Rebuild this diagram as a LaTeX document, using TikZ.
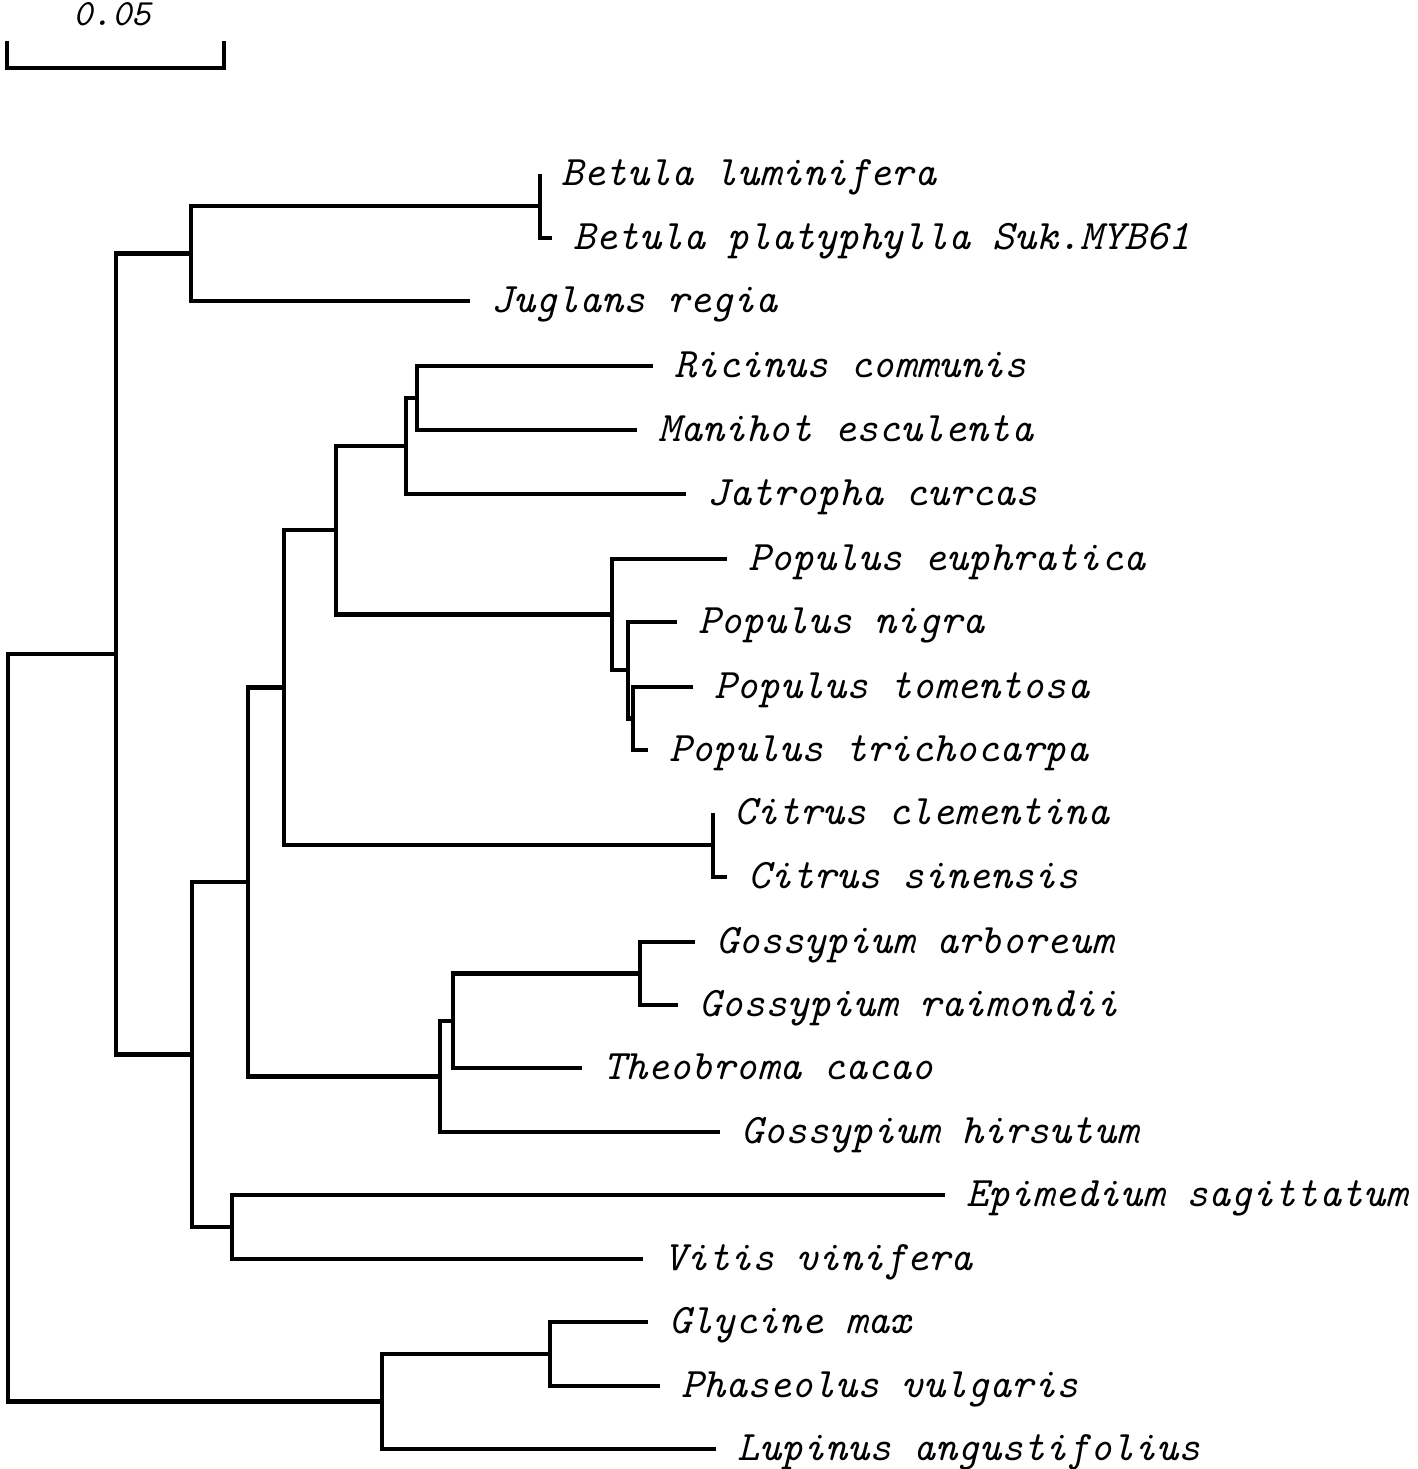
\documentclass[tikz,border=0pt]{standalone}
\usepackage{fontspec}
\begin{document}
\begin{tikzpicture}[x=1pt,y=-1pt,
  br/.style={line width=4.3pt,line join=miter,line cap=butt},
  lab/.style={anchor=base west,inner sep=0pt,xshift=21pt,yshift=-11pt,
    font=\fontsize{42}{46}\selectfont\ttfamily\itshape}]
\useasboundingbox (0,0) rectangle (1418,1469);
% leaf tips
\coordinate (lum) at (540,174);
\coordinate (pla) at (552,238);
\coordinate (jug) at (470,301);
\coordinate (ric) at (653,366);
\coordinate (man) at (637,430);
\coordinate (jat) at (686,494);
\coordinate (eup) at (727,559);
\coordinate (nig) at (677,622);
\coordinate (tom) at (693,687);
\coordinate (tri) at (648,750);
\coordinate (cle) at (713,813);
\coordinate (sin) at (727,877);
\coordinate (arb) at (695,942);
\coordinate (rai) at (678,1005);
\coordinate (the) at (582,1068);
\coordinate (hir) at (720,1132);
\coordinate (epi) at (945,1195);
\coordinate (vit) at (643,1259);
\coordinate (gly) at (648,1322);
\coordinate (pha) at (660,1386);
\coordinate (lup) at (716,1449);
% internal nodes
\coordinate (nBet) at (540,206);
\coordinate (nB) at (191,253.5);
\coordinate (nH) at (417,398);
\coordinate (nG) at (406,446);
\coordinate (nK) at (633,718.5);
\coordinate (nJ) at (628,670);
\coordinate (nI) at (612,614.5);
\coordinate (nF) at (336,530);
\coordinate (nCit) at (713,845);
\coordinate (nE) at (284,687.5);
\coordinate (nN) at (640,973.5);
\coordinate (nM) at (453,1020.75);
\coordinate (nL) at (440,1076.4);
\coordinate (nD) at (248,882);
\coordinate (nO) at (232,1227);
\coordinate (nC) at (192,1054.5);
\coordinate (nA) at (116,654);
\coordinate (nQ) at (550,1354);
\coordinate (nP) at (382,1401.5);
\coordinate (root) at (8,1028);
% branches
\draw[br] (lum) -| (nBet) |- (pla);
\draw[br] (nBet) -| (nB) |- (jug);
\draw[br] (ric) -| (nH) |- (man);
\draw[br] (nH) -| (nG) |- (jat);
\draw[br] (tom) -| (nK) |- (tri);
\draw[br] (nig) -| (nJ) |- (nK);
\draw[br] (eup) -| (nI) |- (nJ);
\draw[br] (nG) -| (nF) |- (nI);
\draw[br] (cle) -| (nCit) |- (sin);
\draw[br] (nF) -| (nE) |- (nCit);
\draw[br] (arb) -| (nN) |- (rai);
\draw[br] (nN) -| (nM) |- (the);
\draw[br] (nM) -| (nL) |- (hir);
\draw[br] (nE) -| (nD) |- (nL);
\draw[br] (epi) -| (nO) |- (vit);
\draw[br] (nD) -| (nC) |- (nO);
\draw[br] (nB) -| (nA) |- (nC);
\draw[br] (gly) -| (nQ) |- (pha);
\draw[br] (nQ) -| (nP) |- (lup);
\draw[br] (nA) -| (root) |- (nP);
% labels
\node[lab] (Llum) at (lum) {Betula luminifera};
\node[lab] (Lpla) at (pla) {Betula platyphylla Suk.MYB61};
\node[lab] (Ljug) at (jug) {Juglans regia};
\node[lab] (Lric) at (ric) {Ricinus communis};
\node[lab] (Lman) at (man) {Manihot esculenta};
\node[lab] (Ljat) at (jat) {Jatropha curcas};
\node[lab] (Leup) at (eup) {Populus euphratica};
\node[lab] (Lnig) at (nig) {Populus nigra};
\node[lab] (Ltom) at (tom) {Populus tomentosa};
\node[lab] (Ltri) at (tri) {Populus trichocarpa};
\node[lab] (Lcle) at (cle) {Citrus clementina};
\node[lab] (Lsin) at (sin) {Citrus sinensis};
\node[lab] (Larb) at (arb) {Gossypium arboreum};
\node[lab] (Lrai) at (rai) {Gossypium raimondii};
\node[lab] (Lthe) at (the) {Theobroma cacao};
\node[lab] (Lhir) at (hir) {Gossypium hirsutum};
\node[lab] (Lepi) at (epi) {Epimedium sagittatum};
\node[lab] (Lvit) at (vit) {Vitis vinifera};
\node[lab] (Lgly) at (gly) {Glycine max};
\node[lab] (Lpha) at (pha) {Phaseolus vulgaris};
\node[lab] (Llup) at (lup) {Lupinus angustifolius};
% scale bar
\coordinate (sbL) at (7,41);
\coordinate (sbR) at (224,41);
\draw[br] (sbL) -- ++(0,27) -| (sbR);
\node[anchor=base,inner sep=0pt,font=\fontsize{37}{40}\selectfont\ttfamily\itshape] (sbT) at (112,26) {0.05};
\end{tikzpicture}
\end{document}
